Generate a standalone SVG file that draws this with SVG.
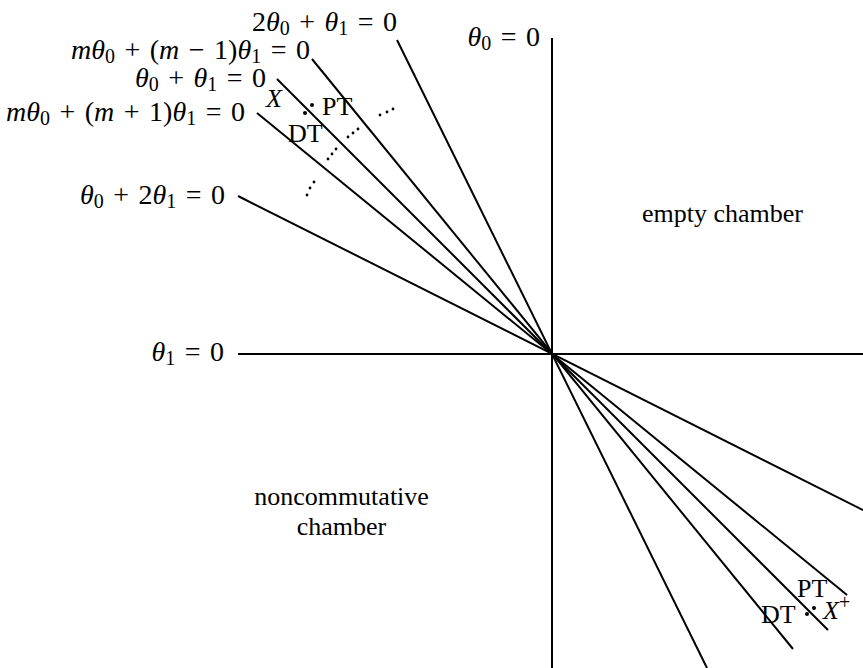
<svg xmlns="http://www.w3.org/2000/svg" width="863" height="668" viewBox="0 0 863 668">
<style>
text{font-family:"Liberation Serif","Times New Roman",serif;font-size:26px;fill:#000}
.m{font-size:28px;word-spacing:2.5px}
.i{font-style:italic}
.s{font-size:20px}
.ln{stroke:#000;stroke-width:2;fill:none}
.d{fill:#000}
</style>
<rect width="863" height="668" fill="#fff"/>
<g id="connectors">
<line class="ln" x1="552" y1="38" x2="552" y2="668"/>
<line class="ln" x1="238" y1="354" x2="863" y2="354"/>
<line class="ln" x1="397" y1="40" x2="707" y2="668"/>
<line class="ln" x1="312" y1="59" x2="793" y2="649"/>
<line class="ln" x1="277" y1="79" x2="828" y2="630"/>
<line class="ln" x1="257" y1="113" x2="847" y2="595"/>
<line class="ln" x1="238" y1="196" x2="863" y2="510"/>
</g>
<g id="label-theta0">
<text class="m" x="540" y="46" text-anchor="end"><tspan class="i">θ</tspan><tspan class="s" dy="4">0</tspan><tspan dy="-4"> = 0</tspan></text>
</g>
<g id="label-theta1">
<text class="m" x="224" y="361" text-anchor="end"><tspan class="i">θ</tspan><tspan class="s" dy="4">1</tspan><tspan dy="-4"> = 0</tspan></text>
</g>
<g id="label-2t0t1">
<text class="m" x="397" y="31" text-anchor="end">2<tspan class="i">θ</tspan><tspan class="s" dy="4">0</tspan><tspan dy="-4"> + </tspan><tspan class="i">θ</tspan><tspan class="s" dy="4">1</tspan><tspan dy="-4"> = 0</tspan></text>
</g>
<g id="label-mm-1">
<text class="m" x="310" y="59" text-anchor="end"><tspan class="i">mθ</tspan><tspan class="s" dy="4">0</tspan><tspan dy="-4"> + (</tspan><tspan class="i">m</tspan> − 1)<tspan class="i">θ</tspan><tspan class="s" dy="4">1</tspan><tspan dy="-4"> = 0</tspan></text>
</g>
<g id="label-t0t1">
<text class="m" x="266" y="87" text-anchor="end"><tspan class="i">θ</tspan><tspan class="s" dy="4">0</tspan><tspan dy="-4"> + </tspan><tspan class="i">θ</tspan><tspan class="s" dy="4">1</tspan><tspan dy="-4"> = 0</tspan></text>
</g>
<g id="label-mm+1">
<text class="m" x="245" y="121" text-anchor="end"><tspan class="i">mθ</tspan><tspan class="s" dy="4">0</tspan><tspan dy="-4"> + (</tspan><tspan class="i">m</tspan> + 1)<tspan class="i">θ</tspan><tspan class="s" dy="4">1</tspan><tspan dy="-4"> = 0</tspan></text>
</g>
<g id="label-t02t1">
<text class="m" x="225" y="204" text-anchor="end"><tspan class="i">θ</tspan><tspan class="s" dy="4">0</tspan><tspan dy="-4"> + 2</tspan><tspan class="i">θ</tspan><tspan class="s" dy="4">1</tspan><tspan dy="-4"> = 0</tspan></text>
</g>
<g id="empty-chamber">
<text x="642" y="222">empty chamber</text>
</g>
<g id="noncommutative-chamber">
<text x="341.5" y="505" text-anchor="middle">noncommutative</text>
<text x="341.5" y="535" text-anchor="middle">chamber</text>
</g>
<g id="point-X">
<circle class="d" cx="312" cy="105" r="2"/>
<circle class="d" cx="305" cy="113" r="2"/>
<text class="i" x="266" y="107">X</text>
<text x="322" y="115">PT</text>
<text x="288" y="142">DT</text>
</g>
<g id="ellipses">
<circle class="d" cx="380" cy="115" r="1.4"/><circle class="d" cx="387" cy="112" r="1.4"/><circle class="d" cx="393" cy="109" r="1.4"/>
<circle class="d" cx="348" cy="137" r="1.4"/><circle class="d" cx="353" cy="133" r="1.4"/><circle class="d" cx="358" cy="129" r="1.4"/>
<circle class="d" cx="328" cy="159" r="1.4"/><circle class="d" cx="332" cy="154" r="1.4"/><circle class="d" cx="336" cy="149" r="1.4"/>
<circle class="d" cx="307" cy="195" r="1.4"/><circle class="d" cx="310" cy="188" r="1.4"/><circle class="d" cx="314" cy="182" r="1.4"/>
</g>
<g id="point-Xplus">
<circle class="d" cx="814" cy="608" r="2"/>
<circle class="d" cx="807" cy="614" r="2"/>
<text x="797" y="597">PT</text>
<text x="761" y="623">DT</text>
<text x="823" y="619"><tspan class="i">X</tspan><tspan class="s" dy="-10">+</tspan></text>
</g>
</svg>
